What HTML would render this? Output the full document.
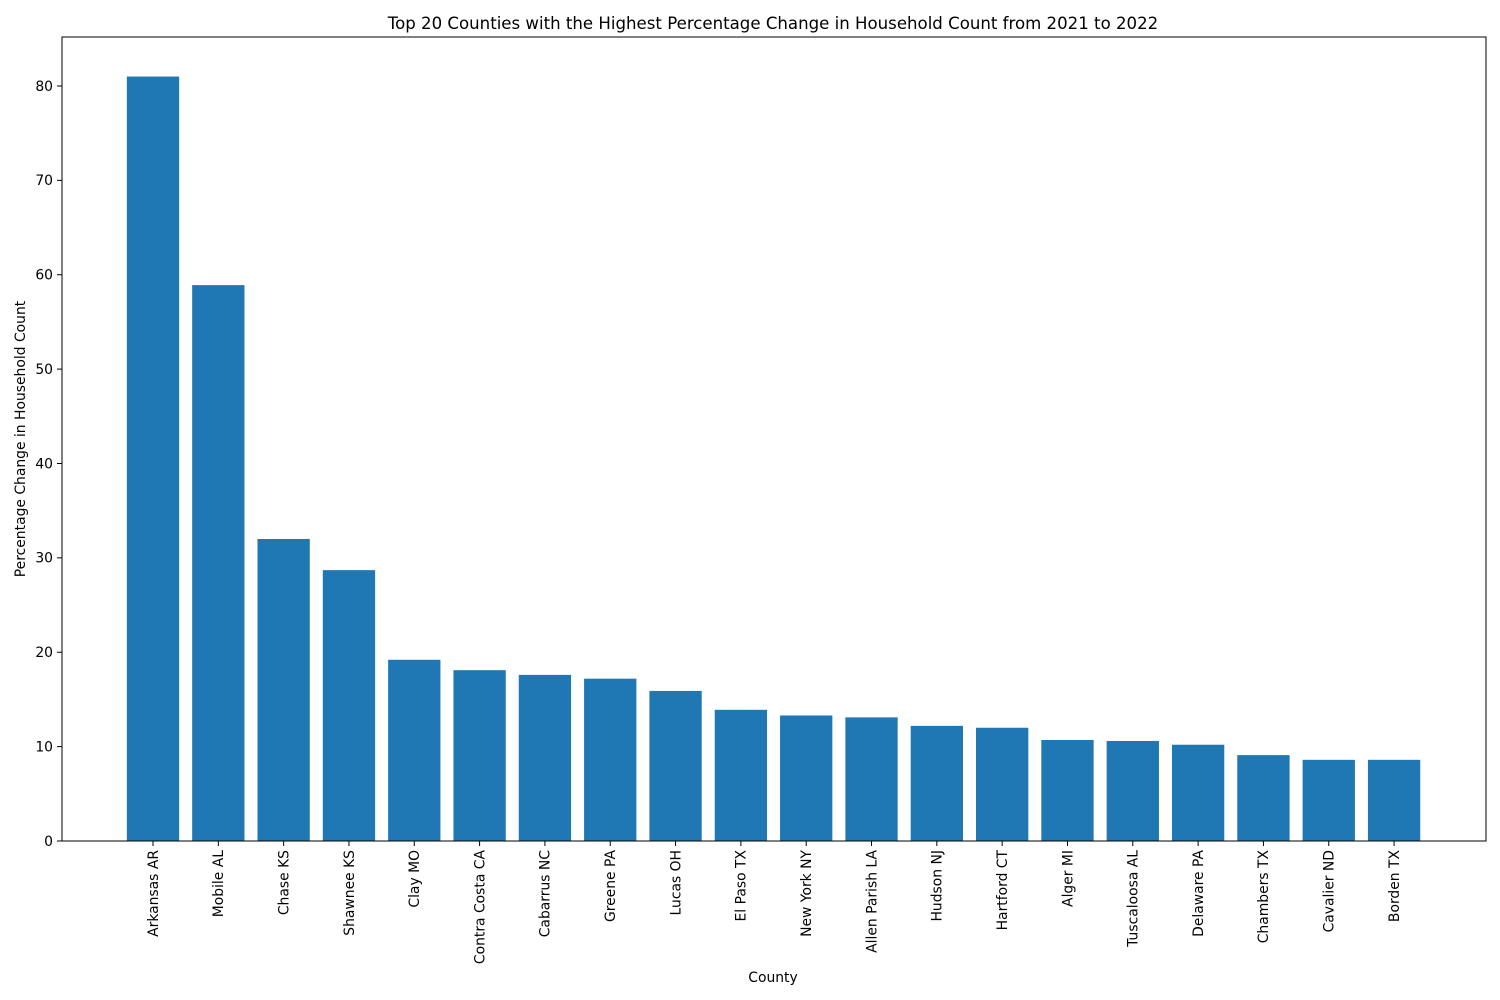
<!DOCTYPE html>
<html><head><meta charset="utf-8"><style>
html,body{margin:0;padding:0;background:#fff;}
svg{display:block;font-family:"DejaVu Sans","Liberation Sans",sans-serif;}
</style></head><body>
<svg id="chart" width="1500" height="1000" xmlns="http://www.w3.org/2000/svg">
<rect width="1500" height="1000" fill="#fff"/>
<text x="773" y="29" font-size="16.6" text-anchor="middle">Top 20 Counties with the Highest Percentage Change in Household Count from 2021 to 2022</text>
<text x="773" y="982" font-size="13.9" text-anchor="middle">County</text>
<text transform="translate(25,439) rotate(-90)" font-size="13.9" text-anchor="middle">Percentage Change in Household Count</text>
<g id="bars"></g><g id="xticks"></g><g id="yticks"></g>
<rect x="62" y="37" width="1424" height="804" fill="none" stroke="#000" stroke-width="1"/>
</svg>
<script>
const categories = ["Arkansas AR","Mobile AL","Chase KS","Shawnee KS","Clay MO","Contra Costa CA","Cabarrus NC","Greene PA","Lucas OH","El Paso TX","New York NY","Allen Parish LA","Hudson NJ","Hartford CT","Alger MI","Tuscaloosa AL","Delaware PA","Chambers TX","Cavalier ND","Borden TX"];
const values = [81.0,58.9,32.0,28.7,19.2,18.1,17.6,17.2,15.9,13.9,13.3,13.1,12.2,12.0,10.7,10.6,10.2,9.1,8.6,8.6];
const yTicks = [0,10,20,30,40,50,60,70,80];
const NS="http://www.w3.org/2000/svg";
const plotLeft=62, plotBottom=841, plotTop=37, yMax=85.19;
function yScale(v){return plotBottom-(v/yMax)*(plotBottom-plotTop);}
const step=65.32, first=153, bw=52.3;
function xScale(i){return first+i*step;}
const bars=document.getElementById('bars'), xt=document.getElementById('xticks'), yt=document.getElementById('yticks');
categories.forEach((c,i)=>{
  const r=document.createElementNS(NS,'rect');
  const y=yScale(values[i]);
  r.setAttribute('x',xScale(i)-bw/2);r.setAttribute('y',y);
  r.setAttribute('width',bw);r.setAttribute('height',plotBottom-y);
  r.setAttribute('fill','#1f77b4');
  
  
  bars.appendChild(r);
  const l=document.createElementNS(NS,'line');
  l.setAttribute('x1',xScale(i));l.setAttribute('x2',xScale(i));
  l.setAttribute('y1',plotBottom);l.setAttribute('y2',plotBottom+5);l.setAttribute('stroke','#000');
  
  
  xt.appendChild(l);
  const t=document.createElementNS(NS,'text');
  t.setAttribute('transform','translate('+(xScale(i)+4.8)+','+(plotBottom+9)+') rotate(-90)');
  t.setAttribute('font-size','13.9');t.setAttribute('text-anchor','end');
  t.textContent=c;
  
  
  xt.appendChild(t);
});
yTicks.forEach(v=>{
  const y=yScale(v);
  const l=document.createElementNS(NS,'line');
  l.setAttribute('x1',plotLeft-5);l.setAttribute('x2',plotLeft);
  l.setAttribute('y1',y);l.setAttribute('y2',y);l.setAttribute('stroke','#000');
  
  
  yt.appendChild(l);
  const t=document.createElementNS(NS,'text');
  t.setAttribute('x',plotLeft-9);t.setAttribute('y',y+4.8);
  t.setAttribute('font-size','13.9');t.setAttribute('text-anchor','end');
  t.textContent=v;
  
  
  yt.appendChild(t);
});
</script>
</body></html>
